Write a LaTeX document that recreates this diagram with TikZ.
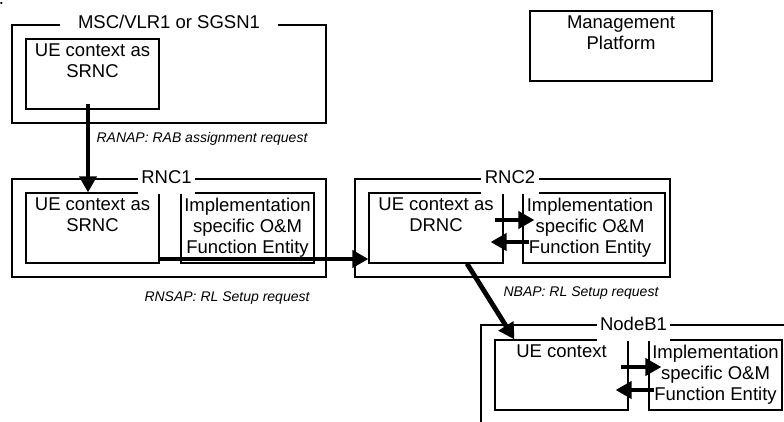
\documentclass[tikz,border=0pt]{standalone}
\usepackage{fontspec}
\setmainfont{Liberation Sans}
\usepackage{tikz}
\usetikzlibrary{positioning}
\usetikzlibrary{arrows.meta}
\tikzstyle{box}=[draw, line width=1.2pt, inner sep=0pt]
\tikzstyle{frame}=[box, minimum width=314pt, minimum height=98pt]
\tikzstyle{entity}=[box, minimum width=133pt, minimum height=70pt]
\tikzstyle{boxtext}=[inner sep=0pt, align=center, font=\fontsize{18.5}{21}\selectfont]
\tikzstyle{caption}=[boxtext, fill=white, anchor=base, inner xsep=3.5pt, inner ysep=1pt]
\tikzstyle{msg}=[inner sep=0pt, font=\fontsize{14}{16}\selectfont\itshape]
\tikzstyle{signal}=[line width=4.8pt, -{Triangle[length=16pt, width=17pt]}]

\begin{document}
\begin{tikzpicture}[x=1pt, y=-1pt]
        \useasboundingbox (0, 0) rectangle (784, 421);
        \node[inner sep=0pt, font=\fontsize{18.5}{21}\selectfont] (dot) at (1.5, 3.8) {.};
        % MSC/VLR1 or SGSN1
        \node[frame] (msc) at (169, 74) {};
        \node[entity] (mscue) at (92.5, 74) {};
        \node[boxtext, below=5.5pt of mscue.north] (mscuet) {UE context as\\SRNC};
        \node[caption, inner xsep=18pt] (msct) at (169, 28) {MSC/VLR1 or SGSN1};
        % Management Platform
        \node[box, minimum width=182pt, minimum height=70pt] (mgmt) at (621, 46) {};
        \node[boxtext, below=5.5pt of mgmt.north] (mgmtt) {Management\\Platform};
        % RNC1
        \node[frame] (rnc1) at (169, 228) {};
        \node[entity] (rnc1ue) at (92.5, 228) {};
        \node[entity] (rnc1om) at (247.5, 228) {};
        \node[boxtext, below=5.5pt of rnc1ue.north] (rnc1uet) {UE context as\\SRNC};
        \node[boxtext, below=5.5pt of rnc1om.north] (rnc1omt) {Implementation\\specific O\&M\\Function Entity};
        \node[caption, text depth=10pt] (rnc1t) at (166.5, 183) {RNC1};
        % RNC2
        \node[frame, minimum width=315pt] (rnc2) at (512.5, 228) {};
        \node[entity, minimum width=134pt] (rnc2ue) at (436, 228) {};
        \node[entity, minimum width=142pt] (rnc2om) at (594, 228) {};
        \node[boxtext, below=5.5pt of rnc2ue.north] (rnc2uet) {UE context as\\DRNC};
        \node[boxtext, below=5.5pt of rnc2om.north, xshift=-4pt] (rnc2omt) {Implementation\\specific O\&M\\Function Entity};
        \node[caption, text depth=10pt] (rnc2t) at (510, 183) {RNC2};
        % NodeB1
        \draw[box] (481, 425) |- (790, 325);
        \node[entity] (nbue) at (561.5, 375) {};
        \node[entity] (nbom) at (715.5, 375) {};
        \node[boxtext, below=5.5pt of nbue.north] (nbuet) {UE context};
        \node[boxtext, below=5.5pt of nbom.north] (nbomt) {Implementation\\specific O\&M\\Function Entity};
        \node[caption, text depth=10pt] (nbt) at (633.5, 330) {NodeB1};
        % messages
        \draw[signal] ([xshift=-4.5pt, yshift=6pt]mscue.south) -- ([xshift=-4.5pt]rnc1ue.north);
        \node[msg] (ranap) at (202, 139) {RANAP: RAB assignment request};
        \draw[signal] ([yshift=-31pt]rnc1ue.east) -- ([yshift=-31pt]rnc2ue.west);
        \node[msg] (rnsap) at (227, 298) {RNSAP: RL Setup request};
        \draw[signal] ([xshift=31pt]rnc2ue.south) -- ([xshift=20pt]nbue.north west);
        \node[msg] (nbap) at (581, 293) {NBAP: RL Setup request};
        \draw[signal] ([xshift=-9pt, yshift=8pt]rnc2ue.east) -- ([xshift=12pt, yshift=8pt]rnc2om.west);
        \draw[signal] ([xshift=7pt, yshift=-14pt]rnc2om.west) -- ([xshift=-13pt, yshift=-14pt]rnc2ue.east);
        \draw[signal] ([xshift=-8pt, yshift=8pt]nbue.east) -- ([xshift=13pt, yshift=8pt]nbom.west);
        \draw[signal] ([xshift=6pt, yshift=-15pt]nbom.west) -- ([xshift=-13pt, yshift=-15pt]nbue.east);
    \end{tikzpicture}
\end{document}
